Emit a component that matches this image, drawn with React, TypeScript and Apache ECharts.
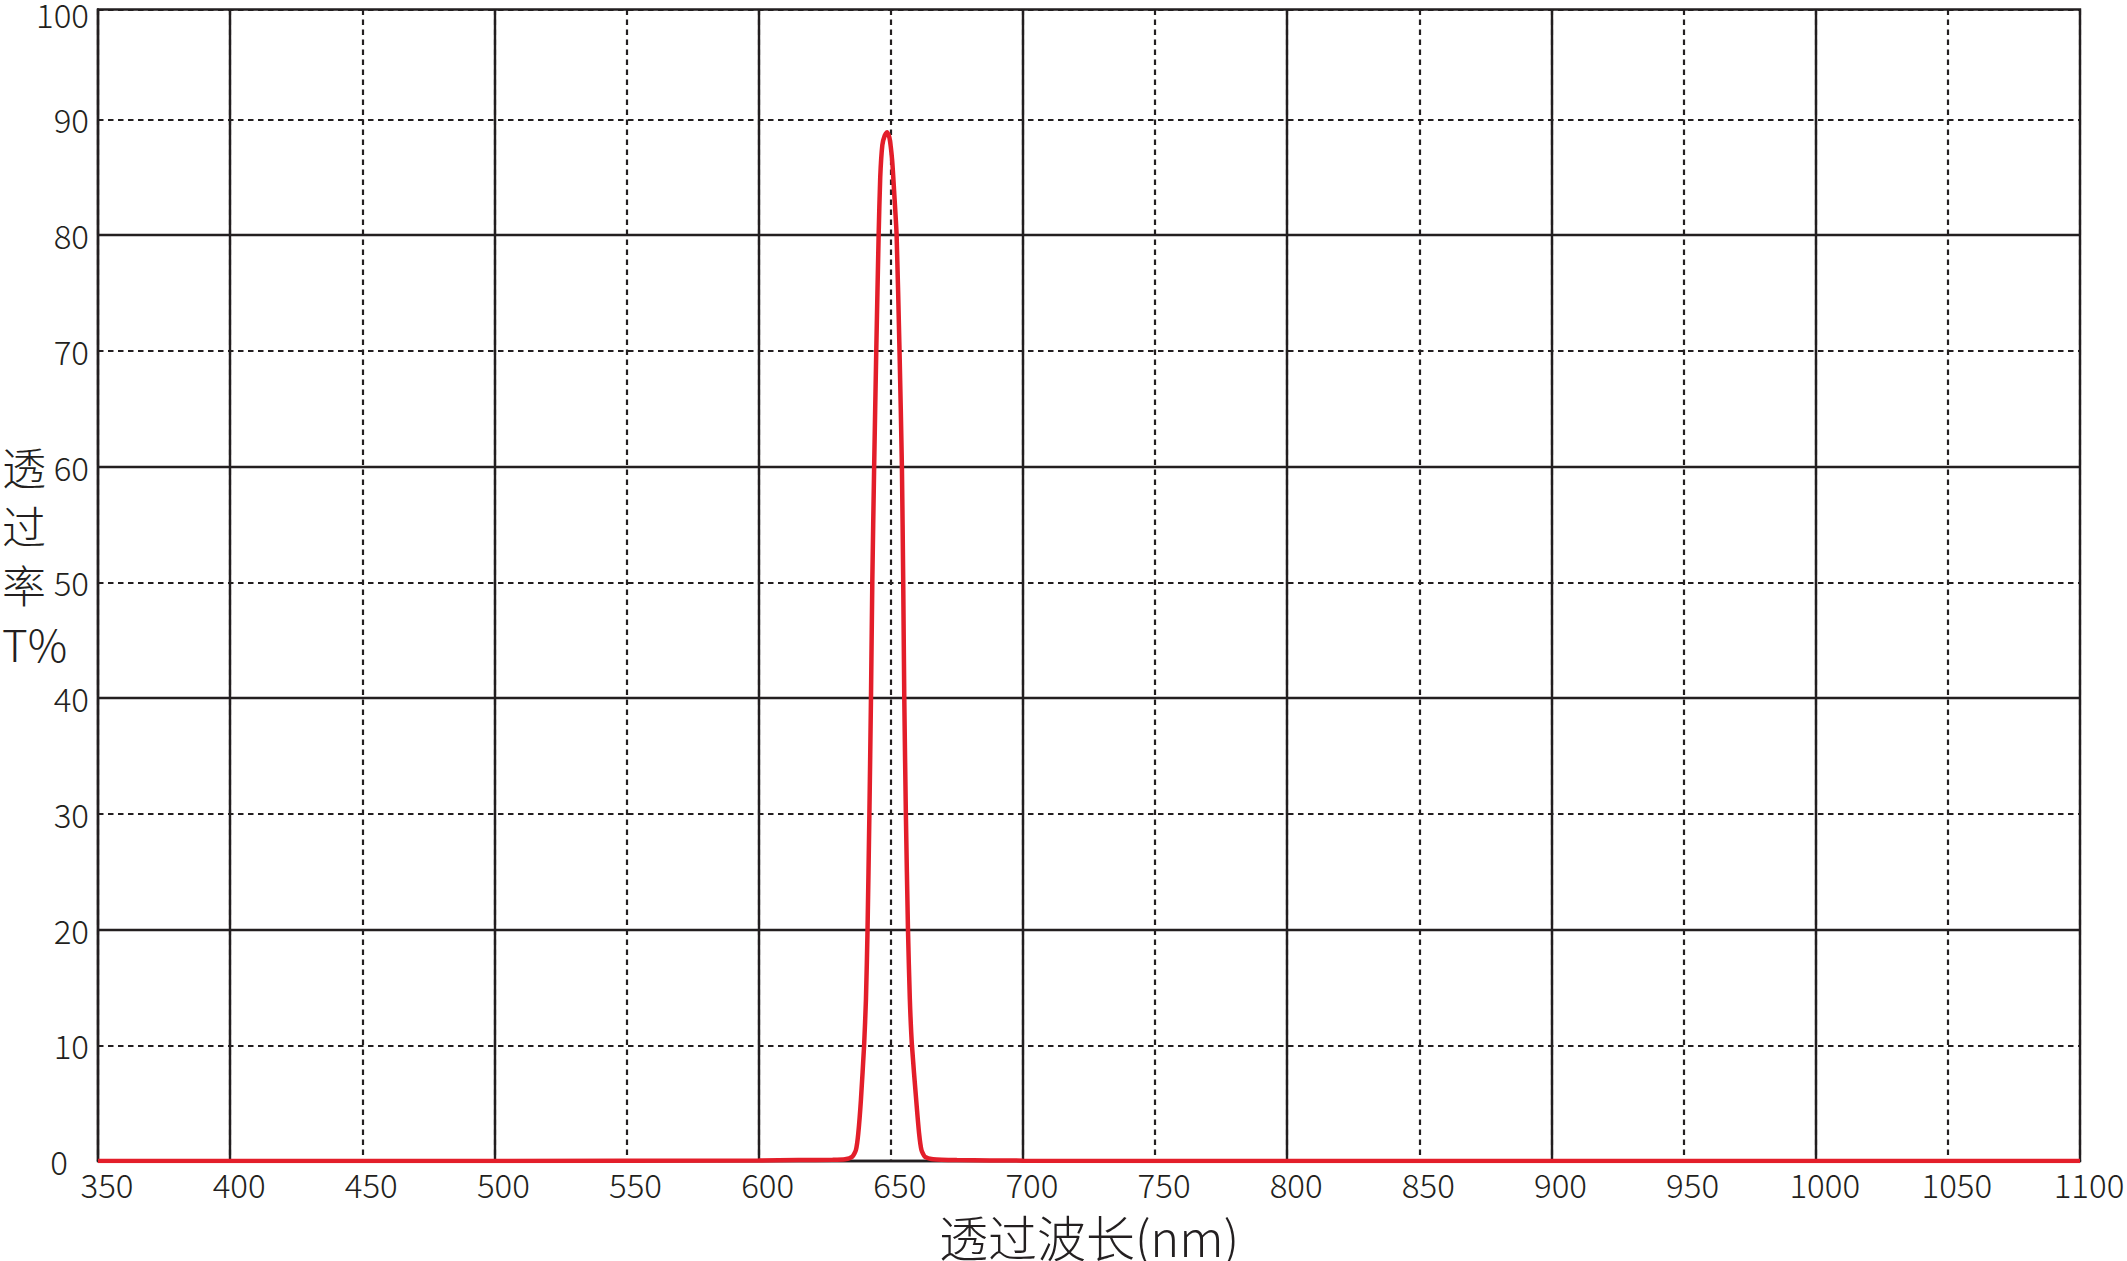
import React, { useEffect, useRef } from "react";
import * as echarts from "echarts";

// Wavelength (nm) and transmittance (%)
const wavelengths = [
  350, 400, 500, 600, 615, 628, 632.7, 635.4, 636.8, 637.7, 638.7, 639.9, 640.6, 641.2, 641.9,
  642.5, 643.0, 643.7, 644.5, 645.4, 646.0, 646.8, 647.7, 648.6, 649.5, 650.5, 651.2, 652.2,
  653.3, 654.2, 654.7, 655.1, 655.7, 656.5, 657.2, 658.0, 659.6, 660.7, 661.6, 662.9, 666,
  675, 700, 800, 1100,
];
const transmittance = [
  0, 0, 0, 0.05, 0.08, 0.1, 0.15, 0.37, 0.95, 2.4, 5.3, 10, 14, 20, 30,
  40, 50, 60, 70, 80, 85, 87.8, 88.6, 88.9, 88.4, 86.5, 84, 80,
  70, 60, 50, 40, 30, 20, 14, 10, 5.3, 2.4, 0.95, 0.37, 0.15,
  0.08, 0.03, 0, 0,
];

const xSolidLines = [400, 500, 600, 700, 800, 900, 1000];
const ySolidLines = [20, 40, 60, 80];

const X_MIN = 350;
const X_MAX = 1100;
const X_STEP = 50;
const Y_MIN = 0;
const Y_MAX = 99.5;
const Y_STEP = 10;
const Y_TOP_LABEL = "100";

const xAxisTitle = "透过波长(nm)";
const yAxisTitle = "透\n过\n率\nT%";

const INK = "#231f20";
const RED = "#e31e2a";
const FONT = "'Noto Sans CJK SC', 'Noto Sans', sans-serif";

export default function App() {
  const ref = useRef<HTMLDivElement>(null);

  useEffect(() => {
    if (!ref.current) return;
    const chart = echarts.init(ref.current, undefined, { renderer: "svg" });
    const data = wavelengths.map((w, i) => [w, transmittance[i]]);
    const solidStyle = { color: INK, width: 2.4, type: "solid" };
    chart.setOption({
      animation: false,
      backgroundColor: "#ffffff",
      textStyle: { fontFamily: FONT },
      grid: {
        left: 98,
        top: 9.5,
        right: 47,
        bottom: 100,
        containLabel: false,
        outerBoundsMode: "none",
        show: true,
        borderColor: INK,
        borderWidth: 2.4,
        backgroundColor: "transparent",
      },
      xAxis: {
        type: "value",
        min: X_MIN,
        max: X_MAX,
        interval: X_STEP,
        name: xAxisTitle,
        nameLocation: "middle",
        nameGap: 52,
        nameTextStyle: { fontSize: 49, lineHeight: 44, color: INK, fontFamily: FONT, fontWeight: 300 },
        axisLine: { show: true, lineStyle: { color: INK, width: 2.4 } },
        axisTick: { show: false },
        axisLabel: {
          fontSize: 33,
          color: INK,
          margin: 6,
          padding: [0, 0, 0, 18],
          fontFamily: FONT,
          fontWeight: 300,
          formatter: (v: number) => String(v),
        },
        splitLine: { show: true, lineStyle: { color: INK, width: 2.2, type: [5.5, 4.5] } },
      },
      yAxis: {
        type: "value",
        min: Y_MIN,
        max: Y_MAX,
        interval: Y_STEP,
        axisLine: { show: true, lineStyle: { color: INK, width: 2.4 } },
        axisTick: { show: false },
        axisLabel: {
          fontSize: 33,
          color: INK,
          margin: 9,
          fontFamily: FONT,
          fontWeight: 300,
          formatter: (v: number) =>
            v > 95 ? "{t|" + Y_TOP_LABEL + "}" : v === 0 ? "{z|0}" : String(v),
          rich: {
            t: { fontSize: 33, lineHeight: 28, color: INK, fontFamily: FONT, fontWeight: 300, padding: [8, 0, 0, 0] },
            z: { fontSize: 33, color: INK, fontFamily: FONT, fontWeight: 300, padding: [0, 21, 0, 0] },
          },
        },
        splitLine: { show: true, lineStyle: { color: INK, width: 2.2, type: [5.5, 4.5] } },
      },
      graphic: [
        {
          type: "text",
          left: 2,
          top: 436,
          style: {
            text: yAxisTitle,
            fontSize: 44,
            lineHeight: 59,
            fill: INK,
            fontFamily: FONT,
            fontWeight: 300,
          },
        },
      ],
      series: [
        {
          type: "line",
          data: [],
          silent: true,
          markLine: {
            silent: true,
            z: 1,
            symbol: ["none", "none"],
            label: { show: false },
            lineStyle: solidStyle,
            emphasis: { disabled: true },
            data: [
              ...xSolidLines.map((v) => ({ xAxis: v, lineStyle: solidStyle })),
              ...ySolidLines.map((v) => ({ yAxis: v, lineStyle: solidStyle })),
            ],
          },
        },
        {
          type: "line",
          data,
          z: 5,
          showSymbol: false,
          symbol: "none",
          smooth: 0.2,
          lineStyle: { color: RED, width: 4.5 },
          itemStyle: { color: RED },
        },
      ],
    });
    return () => chart.dispose();
  }, []);

  return (
    <div
      ref={ref}
      style={{ position: "fixed", left: 0, top: 0, width: 2127, height: 1261, background: "#fff" }}
    />
  );
}
